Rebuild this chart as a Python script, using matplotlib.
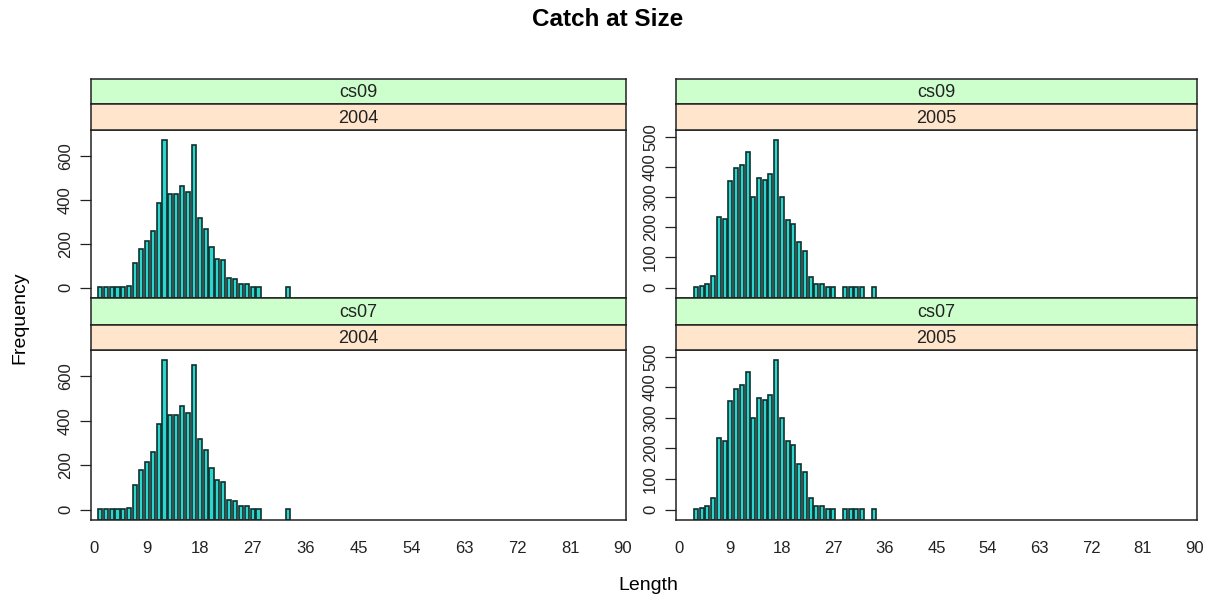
import matplotlib
matplotlib.use("Agg")
import matplotlib.pyplot as plt
import numpy as np

plt.rcParams['font.family'] = ['Liberation Sans', 'DejaVu Sans']

# ---- data ----
len_2004 = [1, 2, 3, 4, 5, 6, 7, 8, 9, 10, 11, 12, 13, 14, 15, 16, 17, 18, 19, 20,
            21, 22, 23, 24, 25, 26, 27, 28, 33]
freq_2004 = [3, 3, 3, 3, 3, 9, 111, 177, 213, 258, 384, 672, 428, 428, 465, 437, 650,
             318, 267, 186, 132, 126, 45, 38, 15, 15, 3, 3, 3]
len_2005 = [3, 4, 5, 6, 7, 8, 9, 10, 11, 12, 13, 14, 15, 16, 17, 18, 19, 20, 21, 22,
            23, 24, 25, 26, 27, 29, 30, 31, 32, 34]
freq_2005 = [3, 6, 12, 38, 235, 226, 354, 395, 407, 450, 300, 364, 358, 375, 488, 300,
             225, 210, 150, 123, 37, 11, 11, 3, 3, 3, 3, 3, 3, 3]
fleets = ["cs09", "cs07"]
years = ["2004", "2005"]
x_ticks = [0, 9, 18, 27, 36, 45, 54, 63, 72, 81, 90]
y_ticks = {"2004": [0, 200, 400, 600], "2005": [0, 100, 200, 300, 400, 500]}
data = {"2004": (len_2004, freq_2004), "2005": (len_2005, freq_2005)}

W, H = 1223, 601
fig = plt.figure(figsize=(W / 100, H / 100), dpi=100)


def ax_px(x0, y0, x1, y1):
    return fig.add_axes([x0 / W, 1 - y1 / H, (x1 - x0) / W, (y1 - y0) / H])


GREEN = "#CCFFCC"
PEACH = "#FFE5CC"
FRAME = "#222222"
TXT = "#222222"

cols = {"2004": (91, 626), "2005": (676, 1197)}
rows = {"cs09": (79, 104, 130, 298), "cs07": (298, 325, 350, 520)}

for fleet in fleets:
    g0, p0, a0, a1 = rows[fleet]
    for yr in years:
        x0, x1 = cols[yr]
        xs, vs = data[yr]
        vmax = max(vs)
        lo, hi = -0.07 * vmax, 1.07 * vmax
        ax = ax_px(x0, a0, x1, a1)
        ax.bar(xs, np.array(vs) - lo, bottom=lo, width=0.7,
               color="#2CD6CE", edgecolor="#10302d", linewidth=1.2)
        ax.set_xlim(-0.5, 90.5)
        ax.set_ylim(lo, hi)
        ax.set_yticks(y_ticks[yr])
        ax.set_yticklabels([str(t) for t in y_ticks[yr]], rotation=90, va="center",
                           fontsize=12, color=TXT)
        ax.tick_params(axis="y", length=8, width=0.9, pad=5, color=FRAME)
        ax.set_xticks(x_ticks)
        if fleet == "cs07":
            ax.set_xticklabels([str(t) for t in x_ticks], fontsize=12, color=TXT)
            ax.tick_params(axis="x", length=0, pad=15)
        else:
            ax.set_xticklabels([])
            ax.tick_params(axis="x", length=0)
        for s in ax.spines.values():
            s.set_color(FRAME)
            s.set_linewidth(1.1)
        # strips
        for (sy0, sy1, col, txt) in [(g0, p0, GREEN, fleet), (p0, a0, PEACH, yr)]:
            sa = ax_px(x0, sy0, x1, sy1)
            sa.set_facecolor(col)
            sa.set_xticks([])
            sa.set_yticks([])
            for s in sa.spines.values():
                s.set_color(FRAME)
                s.set_linewidth(1.1)
            sa.text(0.5, 0.45, txt, ha="center", va="center", fontsize=13,
                    transform=sa.transAxes, color=TXT)

fig.text(608 / W, 1 - 19 / H, "Catch at Size", ha="center", va="center",
         fontsize=17.5, fontweight="bold")
fig.text(20 / W, 1 - 318 / H, "Frequency", ha="center", va="center",
         rotation=90, fontsize=14)
fig.text(648 / W, 1 - 585 / H, "Length", ha="center", va="center", fontsize=14)

fig.savefig("out.png", dpi=100)
